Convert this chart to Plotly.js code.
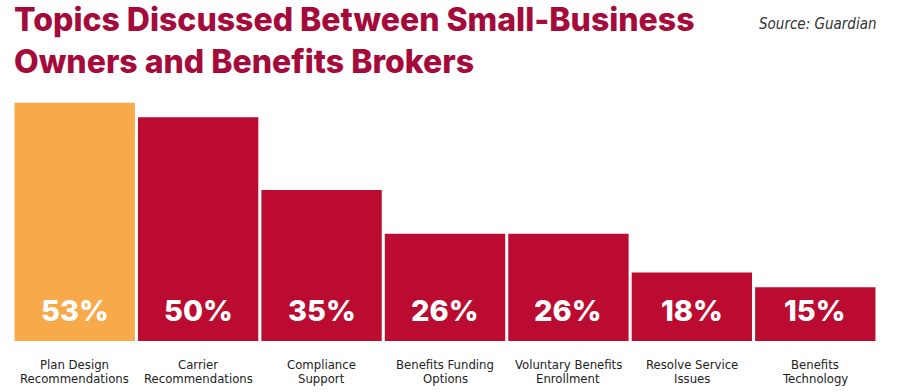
<!DOCTYPE html>
<html><head><meta charset="utf-8">
<script src="https://cdn.plot.ly/plotly-3.0.1.min.js"></script>
<style>html,body{margin:0;padding:0;background:#fff}#chart{width:900px;height:392px}</style>
</head><body><div id="chart"></div>
<script>
const categories = ["Plan Design<br>Recommendations","Carrier<br>Recommendations","Compliance<br>Support","Benefits Funding<br>Options","Voluntary Benefits<br>Enrollment","Resolve Service<br>Issues","Benefits<br>Technology"];
const values = [53, 50, 35, 26, 26, 18, 15];
const valueLabels = ["53%","50%","35%","26%","26%","18%","15%"];
const highlight = [true, false, false, false, false, false, false];
const titleLines = ["Topics Discussed Between Small-Business", "Owners and Benefits Brokers"];
const sourceText = "Source: Guardian";

const colors = highlight.map(h => h ? "#F8AA4B" : "#BC0B30");

// plot area in pixels: x 13..877, y 80..341
const PL = 13, PW = 864, PT = 80, PH = 261;
const px = x => (x - PL) / PW;
const py = y => (PT + PH - y) / PH;

const trace = {
  type: "bar", x: categories, y: values,
  marker: {color: colors, line: {width: 0}},
  hoverinfo: "none", showlegend: false
};

const annotations = values.map((v, i) => ({
  x: categories[i], y: 10.1, xref: "x", yref: "y",
  text: valueLabels[i], showarrow: false,
  font: {family: "Inter", size: 29, color: "#ffffff", weight: 800},
  xanchor: "center", yanchor: "middle"
}));
categories.forEach((c, i) => {
  c.split("<br>").forEach((line, j) => {
    annotations.push({
      x: c, xref: "x", yref: "paper", y: py(364 + j * 14),
      text: line, showarrow: false, xanchor: "center", yanchor: "middle",
      font: {family: "DejaVu Sans Condensed", size: 13, color: "#222222"}
    });
  });
});
annotations.push({
  xref: "paper", yref: "paper", x: px(12), y: py(40), xanchor: "left", yanchor: "middle",
  text: titleLines.join("<br>"), showarrow: false, align: "left",
  font: {family: "Inter", size: 32, color: "#A50B3A", weight: 800}
});
annotations.push({
  xref: "paper", yref: "paper", x: px(878), y: py(24), xanchor: "right", yanchor: "middle",
  text: "<i>" + sourceText + "</i>", showarrow: false,
  font: {family: "DejaVu Sans Condensed", size: 15, color: "#333333"}
});

const layout = {
  width: 900, height: 392,
  margin: {l: 13, r: 23, t: 80, b: 51, pad: 0},
  paper_bgcolor: "#ffffff", plot_bgcolor: "#ffffff",
  bargap: 0.025,
  xaxis: {showgrid: false, zeroline: false, showline: false, ticks: "", showticklabels: false, fixedrange: true},
  yaxis: {range: [3.9, 57.7], visible: false, fixedrange: true},
  annotations: annotations
};

Plotly.newPlot("chart", [trace], layout, {displayModeBar: false, staticPlot: true});
</script></body></html>
